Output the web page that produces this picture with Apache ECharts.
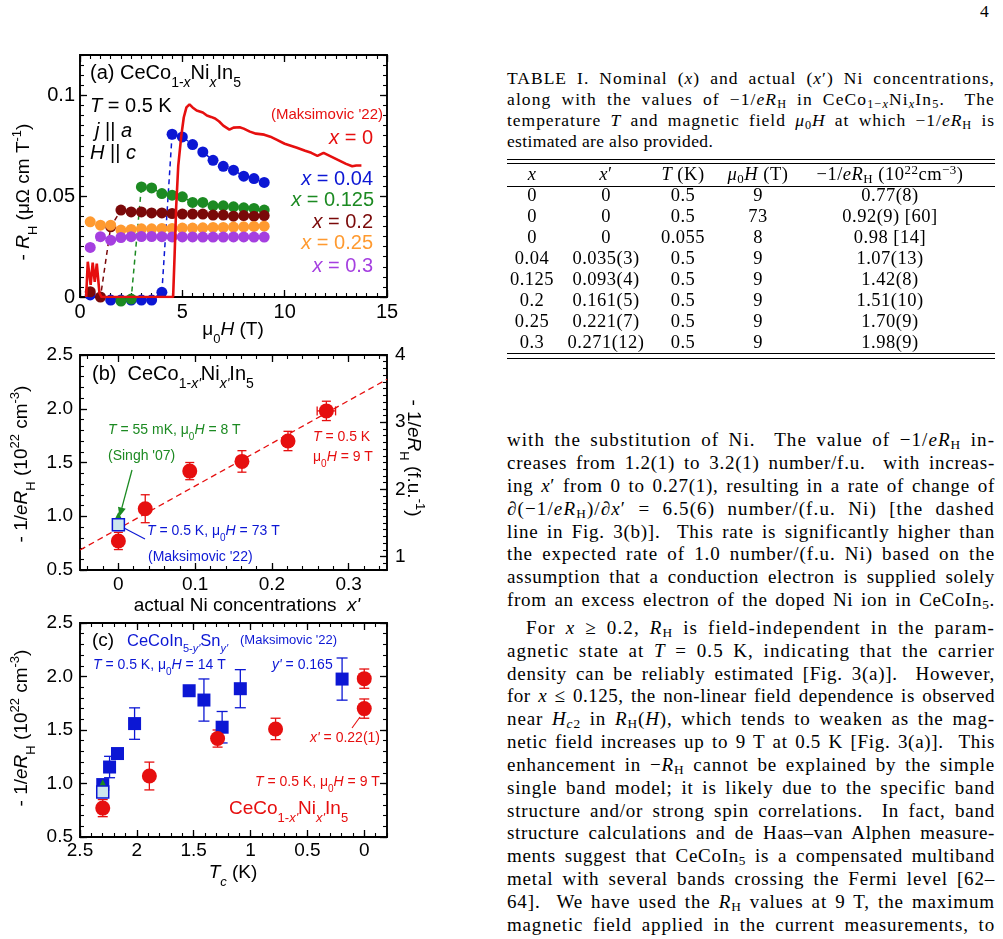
<!DOCTYPE html>
<html>
<head>
<meta charset="utf-8">
<script src="https://cdn.jsdelivr.net/npm/echarts@6.0.0/dist/echarts.min.js"></script>
<style>
html, body { margin: 0; padding: 0; background: #fff; }
#page { position: relative; width: 1003px; height: 939px; overflow: hidden; background: #fff; }
#chart { position: absolute; left: 0; top: 0; width: 500px; height: 939px; }
.serif { position: absolute; font-family: "Liberation Serif", "DejaVu Serif", serif; color: #000; }
.ln { left: 507px; width: 488px; font-size: 19px; line-height: 23px; height: 23px; white-space: nowrap; text-align: justify; text-align-last: justify; }
.cap { left: 507px; width: 488px; font-size: 17.5px; line-height: 21px; height: 21px; white-space: nowrap; text-align: justify; text-align-last: justify; }
.cell { width: 170px; font-size: 18.5px; letter-spacing: 0.5px; line-height: 21px; text-align: center; white-space: nowrap; }
.rule { position: absolute; left: 507px; width: 488px; height: 0; border-top: 1px solid #000; }
sub { font-size: 0.7em; vertical-align: -0.25em; line-height: 0; }
sup { font-size: 0.7em; vertical-align: 0.45em; line-height: 0; }
</style>
</head>
<body>
<div id="page">
  <div id="chart"></div>
  <div id="text"></div>
</div>
<script>
// ---------- panel (a): -R_H vs field ----------
var fieldX0 = [0.3, 0.38, 0.52, 0.62, 0.72, 0.82, 0.95, 1.05, 1.5, 2, 2.5, 3, 3.5, 4, 4.55, 4.62, 4.7, 4.8, 4.95, 5.07, 5.2, 5.35, 5.5, 5.7, 6.0, 6.2, 6.4, 6.6, 6.8, 7.0, 7.3, 7.5, 7.8, 8.0, 8.3, 8.6, 9.0, 9.3, 9.6, 10.0, 10.3, 10.6, 11.0, 11.3, 11.6, 11.9, 12.1, 12.4, 12.7, 13.0, 13.3, 13.5, 13.75];
var rhX0 = [0, 0.0175, 0.006, 0.017, 0.0075, 0.0165, 0.002, 0, 0, 0, 0, 0, 0, 0, 0, 0.02, 0.045, 0.065, 0.08, 0.089, 0.094, 0.0955, 0.094, 0.0925, 0.0915, 0.090, 0.0893, 0.0885, 0.087, 0.085, 0.083, 0.084, 0.0842, 0.0835, 0.082, 0.081, 0.0805, 0.0795, 0.078, 0.076, 0.075, 0.074, 0.0725, 0.0715, 0.070, 0.0715, 0.0705, 0.069, 0.0675, 0.066, 0.0648, 0.0652, 0.0652];

var fieldA = [0.5, 1, 1.5, 2, 2.5, 3, 3.5, 4, 4.5, 5, 5.5, 6, 6.5, 7, 7.5, 8, 8.5, 9];
var rhA004 = [0.001, null, -0.0015, -0.0015, -0.0015, -0.0015, -0.0015, 0.0023, 0.0807, 0.0794, 0.0756, 0.0719, 0.0678, 0.0648, 0.0629, 0.0599, 0.0587, 0.0568];
var rhA0125 = [null, null, null, -0.002, -0.001, 0.0546, 0.0541, 0.0513, 0.0505, 0.0497, 0.0469, 0.0469, 0.0452, 0.0452, 0.0447, 0.0442, 0.0439, 0.0431];
var rhA02 = [0.0026, 0, 0.0348, 0.0431, 0.0422, 0.0422, 0.0417, 0.0417, 0.0414, 0.0411, 0.0411, 0.0411, 0.0406, 0.0406, 0.0401, 0.0404, 0.0401, 0.0404];
var rhA025 = [0.0373, 0.0356, 0.0356, 0.0332, 0.0335, 0.0338, 0.0338, 0.034, 0.034, 0.0342, 0.0342, 0.0343, 0.0345, 0.0345, 0.0347, 0.0348, 0.035, 0.0351];
var rhA03 = [0.0246, 0.0299, 0.0282, 0.0295, 0.0299, 0.03, 0.03, 0.0299, 0.0298, 0.0298, 0.0298, 0.0297, 0.0297, 0.0297, 0.0298, 0.0298, 0.0297, 0.0297];

// ---------- panel (b): -1/eR_H vs actual x' ----------
var xpNi = [0, 0.035, 0.093, 0.161, 0.221, 0.271];
var xpNiErr = [0, 0.003, 0.004, 0.005, 0.007, 0.012];
var invNi = [0.77, 1.07, 1.42, 1.51, 1.70, 1.98];
var invNiErr = [0.08, 0.13, 0.08, 0.10, 0.09, 0.09];
var singhPt = [0, 0.98];
var maks73Pt = [0, 0.92];
var fitX = [-0.05, 0.35];
var fitY = [0.686, 2.274];
var FU = 1.6; // 10^22 cm^-3 -> number per f.u.

// ---------- panel (c): -1/eR_H vs Tc ----------
var tcNi = [2.30, 1.89, 1.29, 0.78, 0, 0];
var tcSn = [2.30, 2.24, 2.17, 2.02, 1.54, 1.41, 1.25, 1.09, 0.195];
var invSn = [0.99, 1.154, 1.28, 1.56, 1.867, 1.78, 1.526, 1.886, 1.976];
var invSnErr = [0, 0.10, 0, 0.147, 0, 0.197, 0.147, 0.178, 0.197];
var singhTc = [2.30, 0.98];
var maks73Tc = [2.30, 0.92];

// tick labels
var aXMajor = [0, 5, 10, 15];
var aYMajor = [0, 0.05, 0.1];
var bXMajor = [0, 0.1, 0.2, 0.3];
var nMajor = [0.5, 1, 1.5, 2, 2.5];
var fuMajor = [1, 2, 3, 4];
var cXMajor = [0, 0.5, 1, 1.5, 2, 2.5];

// table
var tabX = ['0', '0', '0', '0.04', '0.125', '0.2', '0.25', '0.3'];
var tabXp = ['0', '0', '0', '0.035(3)', '0.093(4)', '0.161(5)', '0.221(7)', '0.271(12)'];
var tabT = ['0.5', '0.5', '0.055', '0.5', '0.5', '0.5', '0.5', '0.5'];
var tabH = ['9', '73', '8', '9', '9', '9', '9', '9'];
var tabInv = ['0.77(8)', '0.92(9) [60]', '0.98 [14]', '1.07(13)', '1.42(8)', '1.51(10)', '1.70(9)', '1.98(9)'];

var FONT = 'Liberation Sans';
var RED = '#e60f0f', BLUE = '#0c17d4', GREEN = '#1c8a22', MAROON = '#7a0909',
    ORANGE = '#ff9a30', PURPLE = '#a53fe0', LIGHTBLUE = '#cde7ee';

function zip(a, b) { return a.map(function (v, i) { return [v, b[i]]; }); }
function steps(a, b, d) {
  var out = [];
  for (var v = a; v <= b + 1e-9; v += d) out.push(+v.toFixed(4));
  return out;
}
function fmtPlain(v) { return String(+(+v).toFixed(3)); }
function fmt1(v) { return (+v).toFixed(1); }

var xAxes = [], yAxes = [];
function addAxes(list, grid, pos, min, max, major, minor, showLabel, fmt, opts) {
  opts = opts || {};
  var base = {
    gridIndex: grid, type: 'value', position: pos, min: min, max: max,
    inverse: !!opts.inverse, axisLine: { show: false, onZero: false }, splitLine: { show: false },
    axisPointer: { show: false }, silent: true
  };
  var idx = list.length;
  list.push(Object.assign({}, base, {
    axisTick: { show: true, inside: true, length: 7, customValues: major, lineStyle: { color: '#000', width: 1.3 } },
    axisLabel: {
      show: !!showLabel, customValues: major, formatter: fmt, color: '#000', hideOverlap: false,
      fontFamily: FONT, fontSize: opts.fontSize || 19, margin: opts.margin || 7
    }
  }));
  list.push(Object.assign({}, base, {
    axisTick: { show: true, inside: true, length: 4, customValues: minor, lineStyle: { color: '#000', width: 1.1 } },
    axisLabel: { show: false }
  }));
  return idx;
}

var xa = addAxes(xAxes, 0, 'bottom', 0, 15, aXMajor, steps(0, 15, 0.5), true, fmtPlain, { fontSize: 20, margin: 5 });
addAxes(xAxes, 0, 'top', 0, 15, aXMajor, steps(0, 15, 0.5), false);
var ya = addAxes(yAxes, 0, 'left', 0, 0.12, aYMajor, steps(0, 0.12, 0.005), true, fmtPlain, { fontSize: 20, margin: 5 });
addAxes(yAxes, 0, 'right', 0, 0.12, aYMajor, steps(0, 0.12, 0.005), false);

var xb = addAxes(xAxes, 1, 'bottom', -0.05, 0.35, bXMajor, steps(-0.04, 0.34, 0.02), true, fmtPlain, { margin: 5 });
addAxes(xAxes, 1, 'top', -0.05, 0.35, bXMajor, steps(-0.04, 0.34, 0.02), false);
var yb = addAxes(yAxes, 1, 'left', 0.5, 2.5, nMajor, steps(0.5, 2.5, 0.1), true, fmt1);
addAxes(yAxes, 1, 'right', 0.5 * FU, 2.5 * FU, fuMajor, steps(0.8, 4.0, 0.1), true, fmtPlain, { margin: 8 });

var xc = addAxes(xAxes, 2, 'bottom', -0.2, 2.5, cXMajor, steps(-0.2, 2.5, 0.1), true, fmtPlain, { inverse: true, margin: 4 });
addAxes(xAxes, 2, 'top', -0.2, 2.5, cXMajor, steps(-0.2, 2.5, 0.1), false, null, { inverse: true });
var yc = addAxes(yAxes, 2, 'left', 0.5, 2.5, nMajor, steps(0.5, 2.5, 0.1), true, fmt1);
addAxes(yAxes, 2, 'right', 0.5, 2.5, nMajor, steps(0.5, 2.5, 0.1), false);

function errorBars(color, cap) {
  return function (params, api) {
    var x = api.value(0), y = api.value(1), ex = api.value(2), ey = api.value(3);
    var st = { stroke: color, lineWidth: 1.3 };
    var kids = [];
    function seg(x1, y1, x2, y2) { kids.push({ type: 'line', shape: { x1: x1, y1: y1, x2: x2, y2: y2 }, style: st }); }
    if (ey > 0) {
      var lo = api.coord([x, y - ey]), hi = api.coord([x, y + ey]);
      seg(lo[0], lo[1], hi[0], hi[1]);
      seg(lo[0] - cap, lo[1], lo[0] + cap, lo[1]);
      seg(hi[0] - cap, hi[1], hi[0] + cap, hi[1]);
    }
    if (ex > 0) {
      var l = api.coord([x - ex, y]), r = api.coord([x + ex, y]);
      seg(l[0], l[1], r[0], r[1]);
      seg(l[0], l[1] - cap, l[0], l[1] + cap);
      seg(r[0], r[1] - cap, r[0], r[1] + cap);
    }
    return { type: 'group', children: kids };
  };
}

function dashedDots(field, vals, color, xi, yi) {
  return {
    type: 'line', xAxisIndex: xi, yAxisIndex: yi, data: zip(field, vals),
    symbol: 'circle', symbolSize: 11, showAllSymbol: true, connectNulls: false, clip: false,
    itemStyle: { color: color, opacity: 1 }, lineStyle: { color: color, width: 1.5, type: [5, 4] }
  };
}
function dots(xi, yi, data, symbol, size, style, z) {
  return {
    type: 'scatter', xAxisIndex: xi, yAxisIndex: yi, data: data, symbol: symbol, symbolSize: size,
    itemStyle: Object.assign({ opacity: 1 }, style), z: z, clip: false
  };
}

var series = [
  dashedDots(fieldA, rhA004, BLUE, xa, ya),
  dashedDots(fieldA, rhA0125, GREEN, xa, ya),
  dashedDots(fieldA, rhA02, MAROON, xa, ya),
  dashedDots(fieldA, rhA025, ORANGE, xa, ya),
  dashedDots(fieldA, rhA03, PURPLE, xa, ya),
  {
    type: 'line', xAxisIndex: xa, yAxisIndex: ya, data: zip(fieldX0, rhX0), symbol: 'none',
    lineStyle: { color: RED, width: 2.6 }, clip: true, z: 4
  },
  // (b)
  {
    type: 'line', xAxisIndex: xb, yAxisIndex: yb, data: zip(fitX, fitY), symbol: 'none',
    lineStyle: { color: RED, width: 1.3, type: [6, 4] }
  },
  {
    type: 'custom', xAxisIndex: xb, yAxisIndex: yb, renderItem: errorBars(RED, 4.5),
    data: xpNi.map(function (v, i) { return [v, invNi[i], xpNiErr[i], invNiErr[i]]; }), z: 3
  },
  dots(xb, yb, zip(xpNi, invNi), 'circle', 15, { color: RED }, 4),
  dots(xb, yb, [singhPt], 'triangle', 13, { color: GREEN }, 5),
  dots(xb, yb, [maks73Pt], 'rect', 12, { color: LIGHTBLUE, borderColor: BLUE, borderWidth: 1.5 }, 6),
  // (c)
  {
    type: 'custom', xAxisIndex: xc, yAxisIndex: yc, renderItem: errorBars(BLUE, 5.5),
    data: tcSn.map(function (v, i) { return [v, invSn[i], 0, invSnErr[i]]; }), z: 3
  },
  dots(xc, yc, zip(tcSn, invSn), 'rect', 13, { color: BLUE }, 4),
  {
    type: 'custom', xAxisIndex: xc, yAxisIndex: yc, renderItem: errorBars(RED, 5),
    data: tcNi.map(function (v, i) { return [v, invNi[i], 0, invNiErr[i]]; }), z: 3
  },
  dots(xc, yc, zip(tcNi, invNi), 'circle', 15, { color: RED }, 4),
  dots(xc, yc, [singhTc], 'triangle', 13, { color: GREEN }, 5),
  dots(xc, yc, [maks73Tc], 'rect', 12, { color: LIGHTBLUE, borderColor: BLUE, borderWidth: 1.5 }, 6)
];

// rich text: n normal, i italic, s/si subscript, u superscript
function rt(size, color) {
  var sub = Math.round(size * 0.68);
  function st(fs, extra) {
    return Object.assign({ fontSize: fs, fontFamily: FONT, fill: color, verticalAlign: 'middle' }, extra || {});
  }
  return {
    n: st(size),
    i: st(size, { fontStyle: 'italic' }),
    s: st(sub, { padding: [size, 0, 0, 0] }),
    si: st(sub, { fontStyle: 'italic', padding: [size, 0, 0, 0] }),
    u: st(sub, { padding: [0, 0, Math.round(size * 0.75), 0] })
  };
}
function label(x, y, text, size, color, align, rot) {
  return {
    type: 'text', x: x, y: y, rotation: rot || 0, z: 100, silent: true,
    style: {
      text: text, rich: rt(size, color), fill: color, font: size + 'px ' + FONT,
      align: align || 'left', verticalAlign: 'middle'
    }
  };
}
function arrow(x1, y1, x2, y2, color) {
  var dx = x2 - x1, dy = y2 - y1, L = Math.sqrt(dx * dx + dy * dy), ux = dx / L, uy = dy / L;
  var bx = x2 - ux * 9, by = y2 - uy * 9;
  return [
    { type: 'line', z: 100, shape: { x1: x1, y1: y1, x2: bx, y2: by }, style: { stroke: color, lineWidth: 1.3 } },
    { type: 'polygon', z: 100, shape: { points: [[x2, y2], [bx - uy * 4, by + ux * 4], [bx + uy * 4, by - ux * 4]] }, style: { fill: color } }
  ];
}
function seg(x1, y1, x2, y2, color) {
  return { type: 'line', z: 100, shape: { x1: x1, y1: y1, x2: x2, y2: y2 }, style: { stroke: color, lineWidth: 1.1 } };
}

var K = '#000';
var graphics = [
  // (a)
  label(90, 73, '{n|(a) CeCo}{s|1-}{si|x}{n|Ni}{si|x}{n|In}{s|5}', 20, K),
  label(90, 106, '{i|T}{n| = 0.5 K}', 20, K),
  label(95, 131, '{i|j}{n| || }{i|a}', 20, K),
  label(90, 153, '{i|H}{n| || }{i|c}', 20, K),
  label(383, 115, "{n|(Maksimovic '22)}", 15, RED, 'right'),
  label(373, 138, '{i|x}{n| = 0}', 20, RED, 'right'),
  label(373, 179, '{i|x}{n| = 0.04}', 20, BLUE, 'right'),
  label(374, 200, '{i|x}{n| = 0.125}', 20, GREEN, 'right'),
  label(373, 222, '{i|x}{n| = 0.2}', 20, MAROON, 'right'),
  label(373, 243, '{i|x}{n| = 0.25}', 20, ORANGE, 'right'),
  label(373, 266, '{i|x}{n| = 0.3}', 20, PURPLE, 'right'),
  label(24, 192, '{n|- }{i|R}{s|H}{n| (μΩ cm T}{u|-1}{n|)}', 19, K, 'center', Math.PI / 2),
  label(233, 330, '{n|μ}{s|0}{i|H}{n| (T)}', 19, K, 'center'),
  // (b)
  label(92, 374, "{n|(b)  CeCo}{s|1-}{si|x'}{n|Ni}{si|x'}{n|In}{s|5}", 20, K),
  label(108, 430, '{i|T}{n| = 55 mK, μ}{s|0}{i|H}{n| = 8 T}', 14, GREEN),
  label(108, 456, "{n|(Singh '07)}", 14, GREEN),
  label(147, 531, '{i|T}{n| = 0.5 K, μ}{s|0}{i|H}{n| = 73 T}', 14, BLUE),
  label(148, 557, "{n|(Maksimovic '22)}", 14, BLUE),
  label(313, 437, '{i|T}{n| = 0.5 K}', 14, RED),
  label(313, 457, '{n|μ}{s|0}{i|H}{n| = 9 T}', 14, RED),
  label(247, 606, "{n|actual Ni concentrations  }{i|x'}", 19, K, 'center'),
  label(22, 464, '{n|- 1/}{i|eR}{s|H}{n| (10}{u|22}{n| cm}{u|-3}{n|)}', 19, K, 'center', Math.PI / 2),
  label(413, 458, '{n|- 1/}{i|eR}{s|H}{n| (f.u.}{u|-1}{n|)}', 19, K, 'center', -Math.PI / 2),
  seg(145, 539, 124, 528, BLUE),
  // (c)
  label(92, 641, '{n|(c)}', 19, K),
  label(127, 641, "{n|CeCoIn}{s|5-}{si|y'}{n|Sn}{si|y'}", 16.5, BLUE),
  label(240, 640, "{n|(Maksimovic '22)}", 13, BLUE),
  label(93, 665, '{i|T}{n| = 0.5 K, μ}{s|0}{i|H}{n| = 14 T}', 14, BLUE),
  label(272, 665, "{i|y'}{n| = 0.165}", 14, BLUE),
  label(310, 738, "{i|x'}{n| = 0.22(1)}", 14, RED),
  label(255, 782, '{i|T}{n| = 0.5 K, μ}{s|0}{i|H}{n| = 9 T}', 14, RED),
  label(229, 809, "{n|CeCo}{s|1-}{si|x'}{n|Ni}{si|x'}{n|In}{s|5}", 19, RED),
  label(233, 873, '{i|T}{si|c}{n| (K)}', 19, K, 'center'),
  label(22, 728, '{n|- 1/}{i|eR}{s|H}{n| (10}{u|22}{n| cm}{u|-3}{n|)}', 19, K, 'center', Math.PI / 2),
  seg(352, 728, 360, 717, RED)
].concat(arrow(132, 470, 119.5, 516.5, GREEN));

var gridBase = { show: true, borderColor: '#000', borderWidth: 1.9, backgroundColor: 'transparent', containLabel: false, outerBoundsMode: 'none' };
var option = {
  animation: false,
  backgroundColor: '#fff',
  textStyle: { fontFamily: FONT },
  grid: [
    Object.assign({ left: 80, top: 55, width: 307, height: 242 }, gridBase),
    Object.assign({ left: 80, top: 355, width: 307, height: 215 }, gridBase),
    Object.assign({ left: 80, top: 623, width: 307, height: 214 }, gridBase)
  ],
  xAxis: xAxes,
  yAxis: yAxes,
  series: series,
  graphic: { elements: graphics }
};

var chart = echarts.init(document.getElementById('chart'), null, { renderer: 'canvas' });
chart.setOption(option);

// ---------- right column text ----------
var captionLines = [
  'TABLE I. Nominal (<i>x</i>) and actual (<i>x</i>&prime;) Ni concentrations,',
  'along with the values of &minus;1/<i>eR</i><sub>H</sub> in CeCo<sub>1&minus;<i>x</i></sub>Ni<sub><i>x</i></sub>In<sub>5</sub>.&nbsp; The',
  'temperature <i>T</i> and magnetic field <i>&mu;</i><sub>0</sub><i>H</i> at which &minus;1/<i>eR</i><sub>H</sub> is',
  'estimated are also provided.'
];
var tabHead = ['<i>x</i>', '<i>x</i>&prime;', '<i>T</i> (K)', '<i>&mu;</i><sub>0</sub><i>H</i> (T)',
  '&minus;1/<i>eR</i><sub>H</sub> (10<sup>22</sup>cm<sup>&minus;3</sup>)'];
var bodyLines1 = [
  'with the substitution of Ni.&nbsp; The value of &minus;1/<i>eR</i><sub>H</sub> in-',
  'creases from 1.2(1) to 3.2(1) number/f.u.&nbsp; with increas-',
  'ing <i>x</i>&prime; from 0 to 0.27(1), resulting in a rate of change of',
  '&part;(&minus;1/<i>eR</i><sub>H</sub>)/&part;<i>x</i>&prime; = 6.5(6) number/(f.u. Ni) [the dashed',
  'line in Fig. 3(b)].&nbsp; This rate is significantly higher than',
  'the expected rate of 1.0 number/(f.u. Ni) based on the',
  'assumption that a conduction electron is supplied solely',
  'from an excess electron of the doped Ni ion in CeCoIn<sub>5</sub>.'
];
var bodyLines2 = [
  'For <i>x</i> &ge; 0.2, <i>R</i><sub>H</sub> is field-independent in the param-',
  'agnetic state at <i>T</i> = 0.5 K, indicating that the carrier',
  'density can be reliably estimated [Fig. 3(a)].&nbsp; However,',
  'for <i>x</i> &le; 0.125, the non-linear field dependence is observed',
  'near <i>H</i><sub><i>c</i>2</sub> in <i>R</i><sub>H</sub>(<i>H</i>), which tends to weaken as the mag-',
  'netic field increases up to 9 T at 0.5 K [Fig. 3(a)].&nbsp; This',
  'enhancement in &minus;<i>R</i><sub>H</sub> cannot be explained by the simple',
  'single band model; it is likely due to the specific band',
  'structure and/or strong spin correlations.&nbsp; In fact, band',
  'structure calculations and de Haas&ndash;van Alphen measure-',
  'ments suggest that CeCoIn<sub>5</sub> is a compensated multiband',
  'metal with several bands crossing the Fermi level [62&ndash;',
  '64].&nbsp; We have used the <i>R</i><sub>H</sub> values at 9 T, the maximum',
  'magnetic field applied in the current measurements, to'
];

var html = [];
html.push('<div class="serif" style="left:980px;top:1px;font-size:17.5px;line-height:21px;">4</div>');
captionLines.forEach(function (s, i) {
  var last = i === captionLines.length - 1 ? ' data-last="1"' : '';
  html.push('<div class="serif cap fit"' + last + ' style="top:' + (68 + 21 * i) + 'px;"><span>' + s + '</span></div>');
});
[159, 163, 186, 353, 357.5].forEach(function (y) {
  html.push('<div class="rule" style="top:' + y + 'px;"></div>');
});
var colCenters = [532, 606, 683, 758, 890];
function row(cells, cy) {
  cells.forEach(function (c, j) {
    html.push('<div class="serif cell" style="left:' + (colCenters[j] - 85) + 'px;top:' + (cy - 11) + 'px;">' + c + '</div>');
  });
}
row(tabHead, 175);
tabX.forEach(function (v, i) {
  row([v, tabXp[i], tabT[i], tabH[i], tabInv[i]], 196 + 20.95 * i);
});
bodyLines1.forEach(function (s, i) {
  html.push('<div class="serif ln fit" style="top:' + (441.7 + 22.85 * i - 13.5) + 'px;"><span>' + s + '</span></div>');
});
bodyLines2.forEach(function (s, i) {
  var ind = i === 0 ? 'left:526px;width:469px;' : '';
  html.push('<div class="serif ln fit" style="top:' + (629.3 + 22.85 * i - 13.5) + 'px;' + ind + '"><span>' + s + '</span></div>');
});
document.getElementById('text').innerHTML = html.join('');

// spread each line partly through letter spacing (the original typeface is wider), rest by justification
document.querySelectorAll('.fit').forEach(function (el) {
  var span = el.firstChild;
  el.style.textAlign = 'left';
  el.style.textAlignLast = 'left';
  var w = span.getBoundingClientRect().width;
  var tw = el.getBoundingClientRect().width;
  var n = span.textContent.length;
  var ls;
  if (el.getAttribute('data-last')) ls = 0.35;
  else if (w < tw) ls = (tw - w) * 0.6 / n;
  else ls = (tw - w) / n - 0.05;
  el.style.letterSpacing = ls.toFixed(3) + 'px';
  if (!el.getAttribute('data-last')) {
    el.style.textAlign = 'justify';
    el.style.textAlignLast = 'justify';
  }
  el.style.whiteSpace = 'normal';
});
</script>
</body>
</html>
